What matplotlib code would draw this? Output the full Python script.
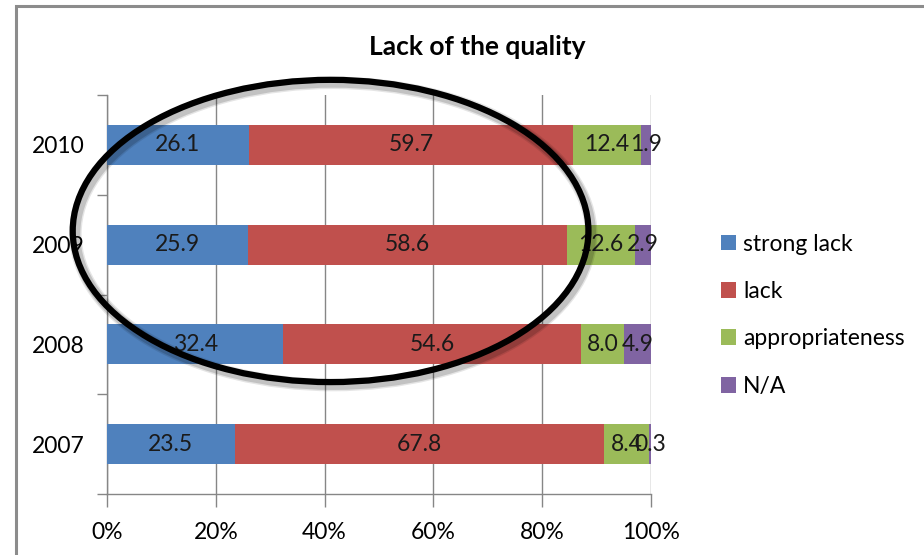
import matplotlib
matplotlib.use("Agg")
import matplotlib.pyplot as plt
from matplotlib.patches import Ellipse, Rectangle
import numpy as np

# chart data (percent answers per year)
years = ["2007", "2008", "2009", "2010"]
series = ["strong lack", "lack", "appropriateness", "N/A"]
strong_lack = [23.5, 32.4, 25.9, 26.1]
lack = [67.8, 54.6, 58.6, 59.7]
appropriateness = [8.4, 8.0, 12.6, 12.4]
not_answered = [0.3, 4.9, 2.9, 1.9]
x_ticks = [0, 20, 40, 60, 80, 100]
x_tick_labels = ["0%", "20%", "40%", "60%", "80%", "100%"]

colors = ["#4F81BD", "#C0504D", "#9BBB59", "#8064A2"]
FONT = "Lato"
FS = 16.5

plt.rcParams['font.family'] = [FONT, 'DejaVu Sans']

W, H = 924, 555
fig = plt.figure(figsize=(W / 100, H / 100), dpi=100)
ax = fig.add_axes([107 / W, (H - 494) / H, (651 - 107) / W, (494 - 95) / H])

values = np.array([strong_lack, lack, appropriateness, not_answered])
totals = values.sum(axis=0)
shares = values / totals * 100  # 100% stacked

ypos = np.arange(len(years))
left = np.zeros(len(years))
for i, name in enumerate(series):
    bars = ax.barh(ypos, shares[i], left=left, height=0.4, color=colors[i],
                   label=name, zorder=3)
    ax.bar_label(bars, labels=[f"{v:.1f}" for v in values[i]],
                 label_type='center', fontsize=FS, color="#1a1a1a", zorder=4)
    left += shares[i]

ax.set_xlim(0, 100)
ax.set_ylim(-0.5, len(years) - 0.5)
ax.set_xticks(x_ticks)
ax.set_xticklabels(x_tick_labels, fontsize=FS)
ax.set_yticks(ypos)
ax.set_yticklabels(years, fontsize=FS)
ax.set_yticks(np.arange(-0.5, len(years), 1.0), minor=True)
ax.tick_params(axis='y', which='major', length=0, pad=16)
ax.tick_params(axis='y', which='minor', length=7, width=1, color="#868686", direction='out')
ax.tick_params(axis='x', length=9, width=1, color="#868686", direction='out', pad=11)
ax.xaxis.grid(True, color="#868686", lw=1, zorder=0)
for s in ["top", "right"]:
    ax.spines[s].set_visible(False)
for s in ["left", "bottom"]:
    ax.spines[s].set_color("#868686")
    ax.spines[s].set_linewidth(1)

title = fig.text(477 / W, (H - 47) / H, "Lack of the quality", fontsize=19,
                 fontweight='bold', ha='center', va='center')

leg = ax.legend(loc='upper left', bbox_to_anchor=(700 / W, (H - 213) / H),
                bbox_transform=fig.transFigure, frameon=False, fontsize=FS,
                handlelength=0.68, handleheight=0.68, handletextpad=0.3,
                labelspacing=1.15)

# highlight ellipse around 2009-2010 (with soft shadow)
cx, cy = 41.1, 2.137
ew, eh = 94.8, 3.03
for lw, a in [(9, 0.10), (7, 0.15)]:
    ax.add_patch(Ellipse((cx + 0.5, cy - 0.03), ew, eh, fill=False, lw=lw,
                         ec="black", alpha=a, zorder=5, clip_on=False))
ax.add_patch(Ellipse((cx, cy), ew, eh, fill=False, lw=4.5, ec="black",
                     zorder=6, clip_on=False))

# chart area frame (top and left edge visible)
fig.patches.append(Rectangle((16 / W, -0.1), 2.0, (H - 6) / H + 0.1,
                             transform=fig.transFigure, fill=False,
                             ec="#8c8c8c", lw=2.2))

fig.savefig("out.png", dpi=100)
